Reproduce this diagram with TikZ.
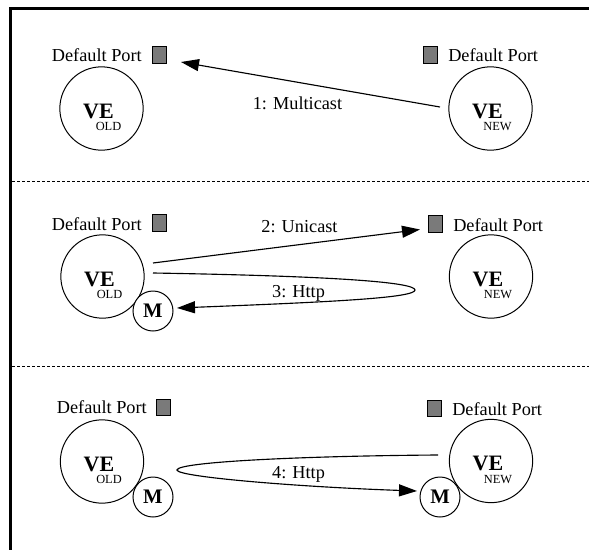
\documentclass[tikz,border=0pt]{standalone}
\usepackage{fontspec}
\setmainfont{Liberation Serif}
\usetikzlibrary{arrows.meta}
\definecolor{portgray}{HTML}{7A7A7A}
% one VE circle with its bold name and the small tag below it
\newcommand\vecircle[4]{%
  \node[vering] (#1) at (#2,#3) {};
  \node[vetxt, anchor=base] (#1-ve) at ([shift={(-3,9.5)}]#1.center) {VE};
  \node[tagtxt, anchor=base] (#1-tag) at ([shift={(7,22)}]#1.center) {#4};}
\begin{document}
\begin{tikzpicture}[x=0.75pt,y=-0.75pt,
  lbl/.style={font=\fontsize{13.7}{16}\selectfont, inner sep=0pt},
  vetxt/.style={font=\fontsize{16.5}{18}\selectfont\bfseries, inner sep=0pt},
  tagtxt/.style={font=\fontsize{9.3}{10}\selectfont, inner sep=0pt},
  vering/.style={circle, draw=black, line width=0.75pt, minimum size=62.5pt, inner sep=0pt},
  mring/.style={circle, draw=black, fill=white, line width=0.75pt, minimum size=30pt, inner sep=0pt,
                font=\fontsize{15.5}{18}\selectfont\bfseries},
  port/.style={rectangle, draw=black, fill=portgray, line width=0.75pt,
               minimum width=10.5pt, minimum height=12.5pt, inner sep=0pt},
  arr/.style={line width=0.85pt, -{Triangle[length=13.5pt,width=9pt]}},
  frame/.style={line width=2.6pt},
  sep/.style={line width=0.75pt, dash pattern=on 2.25pt off 1.5pt}]

\useasboundingbox (0,0) rectangle (589,550);

% outer frame (top and left edges) and panel separators
\coordinate (tl) at (10.3,8.3);
\coordinate (tr) at (589,8.3);
\coordinate (bl) at (10.3,550);
\draw[frame] (tr) -- (tl) -- (bl);
\coordinate (s1a) at (12,181.5);
\coordinate (s1b) at (589,181.5);
\coordinate (s2a) at (12,366);
\coordinate (s2b) at (589,366);
\draw[sep] (s1a) -- (s1b);
\draw[sep] (s2a) -- (s2b);

% ---------- panel 1: multicast discovery ----------
\node[lbl, anchor=base east] (dp1l) at (142,61) {Default Port};
\node[port] (p1l) at (159,55) {};
\node[lbl, anchor=base west] (dp1r) at (448,61) {Default Port};
\node[port] (p1r) at (430.5,55) {};
\vecircle{old1}{101.5}{108.5}{OLD}
\vecircle{new1}{490.5}{108.5}{NEW}
\coordinate (a1s) at (440,107);
\coordinate (a1e) at (181,62);
\draw[arr] (a1s) -- (a1e);
\node[lbl, anchor=base] (l1) at (297.5,109.5) {1: Multicast};

% ---------- panel 2: unicast reply and http transfer ----------
\node[lbl, anchor=base east] (dp2l) at (142,230) {Default Port};
\node[port] (p2l) at (159,223) {};
\node[lbl, anchor=base west] (dp2r) at (453,231) {Default Port};
\node[port] (p2r) at (435,224) {};
\vecircle{old2}{102.5}{276.5}{OLD}
\vecircle{new2}{491}{276.5}{NEW}
\node[mring] (m2) at (153,311) {M};
\coordinate (a2s) at (153,263);
\coordinate (a2e) at (420,229.5);
\draw[arr] (a2s) -- (a2e);
\node[lbl, anchor=base] (l2) at (299.5,232.5) {2: Unicast};
\coordinate (a3s) at (153,273);
\coordinate (a3t) at (415,290);
\coordinate (a3e) at (177,308);
\draw[arr] (a3s) .. controls (330,276) and (415,282) .. (a3t)
               .. controls (415,298) and (330,302) .. (a3e);
\node[lbl, anchor=base] (l3) at (298.5,297.5) {3: Http};

% ---------- panel 3: agent moved to the new VE ----------
\node[lbl, anchor=base east] (dp3l) at (147,413) {Default Port};
\node[port] (p3l) at (163.5,407.5) {};
\node[lbl, anchor=base west] (dp3r) at (452,415) {Default Port};
\node[port] (p3r) at (434,408.5) {};
\vecircle{old3}{102}{461.5}{OLD}
\vecircle{new3}{491}{461}{NEW}
\node[mring] (m3l) at (153,497) {M};
\node[mring] (m3r) at (440,497) {M};
\coordinate (a4s) at (438,455);
\coordinate (a4t) at (177,470);
\coordinate (a4e) at (417,491);
\draw[arr] (a4s) .. controls (300,456) and (177,462) .. (a4t)
               .. controls (177,477) and (300,487) .. (a4e);
\node[lbl, anchor=base] (l4) at (298.5,478) {4: Http};

\end{tikzpicture}
\end{document}
